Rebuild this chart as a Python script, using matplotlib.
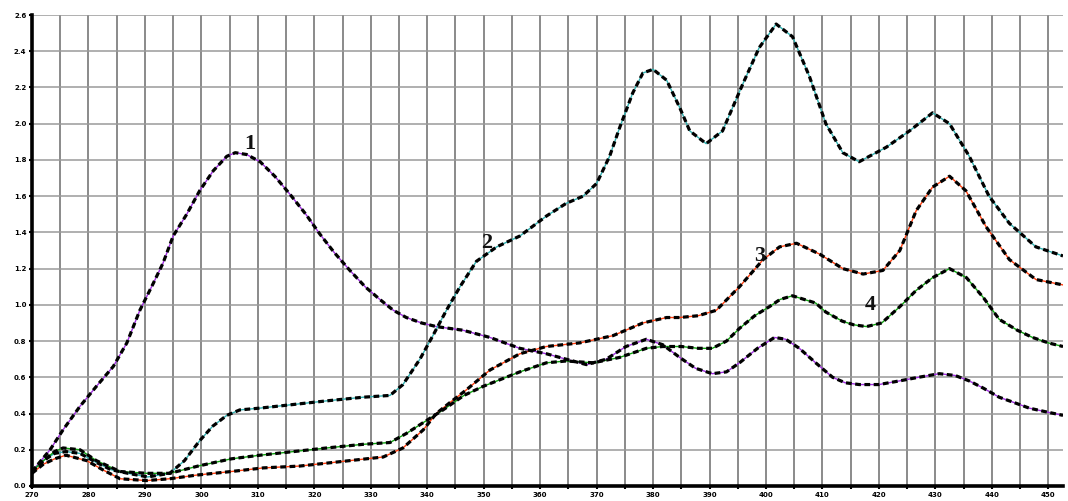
import matplotlib
matplotlib.use("Agg")
import matplotlib.pyplot as plt
from matplotlib.ticker import MultipleLocator, FormatStrFormatter

# ---- data ----
x1 = [270, 273.2, 275.5, 278.5, 281.4, 284.4, 286.8, 289.1, 291.5, 293.2, 295, 297.4, 299.7, 302.1,
      304.5, 306, 308, 310.4, 313, 315.7, 318.5, 321, 323.5, 326.3, 329, 331.6, 334, 336.3, 339,
      341.6, 346.3, 351.1, 356.4, 361.1, 364.6, 368.2, 371.7, 375.2, 378.8, 381.7, 384.7, 387.5,
      390.5, 393, 395.3, 398.5, 401.5, 403.5, 405.9, 408.8, 411.8, 414, 416.5, 420, 423.6, 427,
      430.7, 433.5, 436, 438.5, 441.3, 444, 446.6, 449.5, 452.6]
y1 = [0.08, 0.20, 0.31, 0.44, 0.55, 0.66, 0.79, 0.97, 1.12, 1.23, 1.38, 1.50, 1.63, 1.74,
      1.82, 1.84, 1.83, 1.79, 1.71, 1.61, 1.50, 1.39, 1.29, 1.19, 1.10, 1.03, 0.97, 0.93, 0.90,
      0.88, 0.86, 0.82, 0.76, 0.73, 0.70, 0.67, 0.70, 0.77, 0.81, 0.78, 0.71, 0.65,
      0.62, 0.63, 0.68, 0.76, 0.82, 0.81, 0.76, 0.68, 0.60, 0.57, 0.56, 0.56, 0.58, 0.60,
      0.62, 0.61, 0.58, 0.54, 0.49, 0.46, 0.43, 0.41, 0.39]

x2 = [270, 272, 274, 276, 278.5, 281.4, 284, 287, 290.5, 294.4, 297, 299.7, 302, 304.5, 306.8,
      310.4, 316.3, 322.2, 328.6, 333.4, 335.7, 338.7, 341, 343.4, 345.8, 348.7, 352.3, 356.4,
      361.1, 364.6, 367.6, 370, 372.3, 374.1, 376.4, 378.2, 380, 382.4, 384.7, 386.5, 389.4,
      392.3, 395.9, 398.8, 401.8, 404.7, 407.7, 410.6, 413.6, 416.5, 421.3, 425.4, 429.5, 432.5,
      436, 439.5, 443.1, 447.8, 452.6]
y2 = [0.08, 0.14, 0.18, 0.19, 0.18, 0.13, 0.09, 0.07, 0.05, 0.07, 0.14, 0.25, 0.33, 0.39, 0.42,
      0.43, 0.45, 0.47, 0.49, 0.50, 0.56, 0.70, 0.83, 0.97, 1.10, 1.24, 1.32, 1.38,
      1.49, 1.56, 1.60, 1.67, 1.82, 1.98, 2.17, 2.28, 2.30, 2.24, 2.09, 1.96, 1.89,
      1.96, 2.22, 2.42, 2.55, 2.48, 2.26, 2.00, 1.84, 1.79, 1.87, 1.96, 2.06, 2.00,
      1.82, 1.60, 1.45, 1.32, 1.27]

x3 = [270, 272, 274, 276, 279.7, 282.5, 285.6, 290.3, 294.4, 299.1, 305.3, 311, 317.4, 323.3,
      329.2, 332.2, 335.7, 339.3, 341.6, 344, 346.9, 351.1, 356.4, 361.1, 367, 372.9, 378.2,
      382.4, 384.7, 388, 391.2, 395.3, 399.5, 402.4, 405.4, 409.5, 413.6, 417.2, 420.7, 423.7,
      426.6, 429.5, 432.5, 435.4, 439, 443.1, 447.8, 452.6]
y3 = [0.07, 0.12, 0.15, 0.17, 0.14, 0.09, 0.04, 0.03, 0.04, 0.06, 0.08, 0.10, 0.11, 0.13,
      0.15, 0.16, 0.21, 0.31, 0.40, 0.46, 0.53, 0.64, 0.73, 0.77, 0.79, 0.83, 0.90,
      0.93, 0.93, 0.94, 0.97, 1.10, 1.25, 1.32, 1.34, 1.28, 1.20, 1.17, 1.19, 1.30,
      1.52, 1.65, 1.71, 1.63, 1.43, 1.25, 1.14, 1.11]

x4 = [270, 272, 274, 275.5, 278.5, 281.4, 285.6, 290.3, 294.4, 299.4, 305.3, 310.4, 316.3, 322.2,
      328.6, 333.4, 336.3, 339.3, 342.8, 346.5, 349.9, 356.4, 361.1, 364.6, 369.4, 374.1, 378.8,
      381.7, 385, 388, 390.5, 393, 395.3, 398, 400.6, 402.5, 404.7, 408.8, 410.6, 413.5, 415.5,
      417.8, 420.5, 423.7, 426.6, 429.5, 432.5, 435.5, 438.5, 441.3, 444.5, 447.2, 450, 452.6]
y4 = [0.08, 0.14, 0.19, 0.21, 0.20, 0.14, 0.08, 0.07, 0.07, 0.11, 0.15, 0.17, 0.19, 0.21,
      0.23, 0.24, 0.29, 0.35, 0.42, 0.50, 0.55, 0.63, 0.68, 0.69, 0.68, 0.71, 0.76,
      0.77, 0.77, 0.76, 0.76, 0.80, 0.87, 0.94, 0.99, 1.03, 1.05, 1.01, 0.96, 0.91, 0.89,
      0.88, 0.90, 0.99, 1.08, 1.15, 1.20, 1.15, 1.04, 0.92, 0.86, 0.82, 0.79, 0.77]

series = [(x1, y1, "#a030e0"), (x2, y2, "#30b0b0"), (x3, y3, "#ff4010"), (x4, y4, "#10a010")]
curve_labels = ["1", "2", "3", "4"]
label_pos = [(308.6, 1.89), (350.6, 1.34), (398.9, 1.27), (418.4, 1.00)]

fig = plt.figure(figsize=(10.68, 5.01), dpi=100)
ax = fig.add_axes([32 / 1068, 15 / 501, (1063 - 32) / 1068, 471 / 501])

for xs, ys, col in series:
    ax.plot(xs, ys, color=col, lw=1.0, zorder=3)
    ax.plot(xs, ys, color="black", lw=2.3, linestyle=(0, (1.8, 1.1)), zorder=4)

for lab, (lx, ly) in zip(curve_labels, label_pos):
    ax.text(lx, ly, lab, fontsize=16, fontweight="bold", family="Liberation Serif",
            ha="center", va="center", color="#111111", zorder=5)

ax.set_xlim(270, 452.6)
ax.set_ylim(0, 2.6)
ax.xaxis.set_major_locator(MultipleLocator(10))
ax.xaxis.set_minor_locator(MultipleLocator(5))
ax.yaxis.set_major_locator(MultipleLocator(0.2))
ax.yaxis.set_major_formatter(FormatStrFormatter("%.1f"))
ax.grid(True, which="both", axis="x", color="#8a8a8a", lw=1.4, zorder=1)
ax.grid(True, which="major", axis="y", color="#9a9a9a", lw=1.1, zorder=1)

for s in ["top", "right"]:
    ax.spines[s].set_visible(False)
for s in ["left", "bottom"]:
    ax.spines[s].set_linewidth(2.6)
    ax.spines[s].set_zorder(6)

ax.tick_params(axis="both", which="both", direction="out", length=2.5, width=1.5,
               labelsize=5, pad=1.5)
for lbl in ax.get_xticklabels() + ax.get_yticklabels():
    lbl.set_fontweight("bold")

fig.savefig("out.png", dpi=100)
